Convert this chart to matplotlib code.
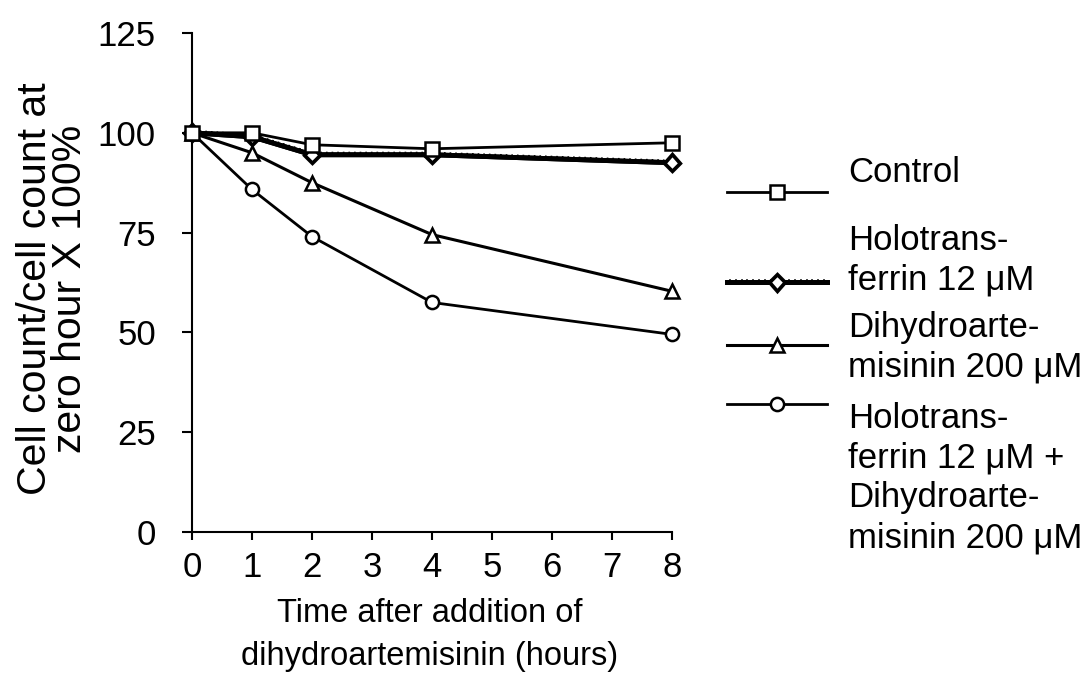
import matplotlib
matplotlib.use("Agg")
import matplotlib.pyplot as plt
import matplotlib.patheffects as pe

plt.rcParams["font.family"] = ["Liberation Sans", "DejaVu Sans"]

hours = [0, 1, 2, 4, 8]
control = [100, 100, 97, 96, 97.5]
holo = [100, 99, 94.5, 94.5, 92.5]
dha = [100, 95, 87.5, 74.5, 60.3]
holo_dha = [100, 85.8, 74, 57.5, 49.5]

labels = [["Control"],
          ["Holotrans-", "ferrin 12 \u03bcM"],
          ["Dihydroarte-", "misinin 200 \u03bcM"],
          ["Holotrans-", "ferrin 12 \u03bcM +", "Dihydroarte-", "misinin 200 \u03bcM"]]

W, H = 1086, 678
fig = plt.figure(figsize=(W / 100, H / 100), dpi=100)
ax = fig.add_axes([192 / W, 1 - 532 / H, (672 - 192) / W, (532 - 33) / H])

l4, = ax.plot(hours, holo_dha, color="black", lw=2, marker="o", ms=9.5,
              mfc="white", mec="black", mew=1.8, zorder=3, clip_on=False)
l3, = ax.plot(hours, dha, color="black", lw=2.2, marker="^", ms=10,
              mfc="white", mec="black", mew=1.8, zorder=3, clip_on=False)
ticked = [pe.Stroke(linewidth=3.5, foreground="black"),
          pe.withTickedStroke(angle=90, spacing=4, length=0.4, linewidth=1.2)]
l2, = ax.plot(hours, holo, color="black", lw=3.5, marker="D", ms=7.5,
              mfc="white", mec="black", mew=1.8, zorder=4, clip_on=False,
              path_effects=ticked)
l1, = ax.plot(hours, control, color="black", lw=2, marker="s", ms=10,
              mfc="white", mec="black", mew=1.8, zorder=5, clip_on=False)

ax.set_xlim(0, 8)
ax.set_ylim(0, 125)
ax.set_xticks(range(0, 9))
ax.set_yticks([0, 25, 50, 75, 100, 125])
ax.spines["top"].set_visible(False)
ax.spines["right"].set_visible(False)
ax.spines["left"].set_linewidth(1.5)
ax.spines["bottom"].set_linewidth(1.5)
ax.tick_params(axis="both", labelsize=25, width=1.5, direction="out")
ax.tick_params(axis="x", length=6, pad=8)
ax.tick_params(axis="y", length=7, pad=19)

# axis titles, one text per line
fig.text(430 / W, 1 - 613 / H, "Time after addition of", fontsize=23.5,
         ha="center", va="center")
fig.text(430 / W, 1 - 656 / H, "dihydroartemisinin (hours)", fontsize=23.5,
         ha="center", va="center")
fig.text(35 / W, 1 - 289 / H, "Cell count/cell count at", fontsize=29.5,
         rotation=90, ha="center", va="center")
fig.text(70 / W, 1 - 289 / H, "zero hour X 100%", fontsize=29.5,
         rotation=90, ha="center", va="center")

# legend keys and their text lines
handles = [l1, l2, l3, l4]
key_y = [195, 285, 348, 407]
text_y = [[173], [240, 280], [327, 367], [418, 458, 498, 538]]
for h, ky, lines, ys in zip(handles, key_y, labels, text_y):
    fig.legend([h], [""], loc="center left",
               bbox_to_anchor=(727 / W, 1 - ky / H), frameon=False,
               handlelength=2.88, handletextpad=0, borderpad=0,
               borderaxespad=0, fontsize=25)
    for line, ty in zip(lines, ys):
        fig.text(848 / W, 1 - ty / H, line, fontsize=25, ha="left", va="center")

fig.savefig("out.png", dpi=100)
